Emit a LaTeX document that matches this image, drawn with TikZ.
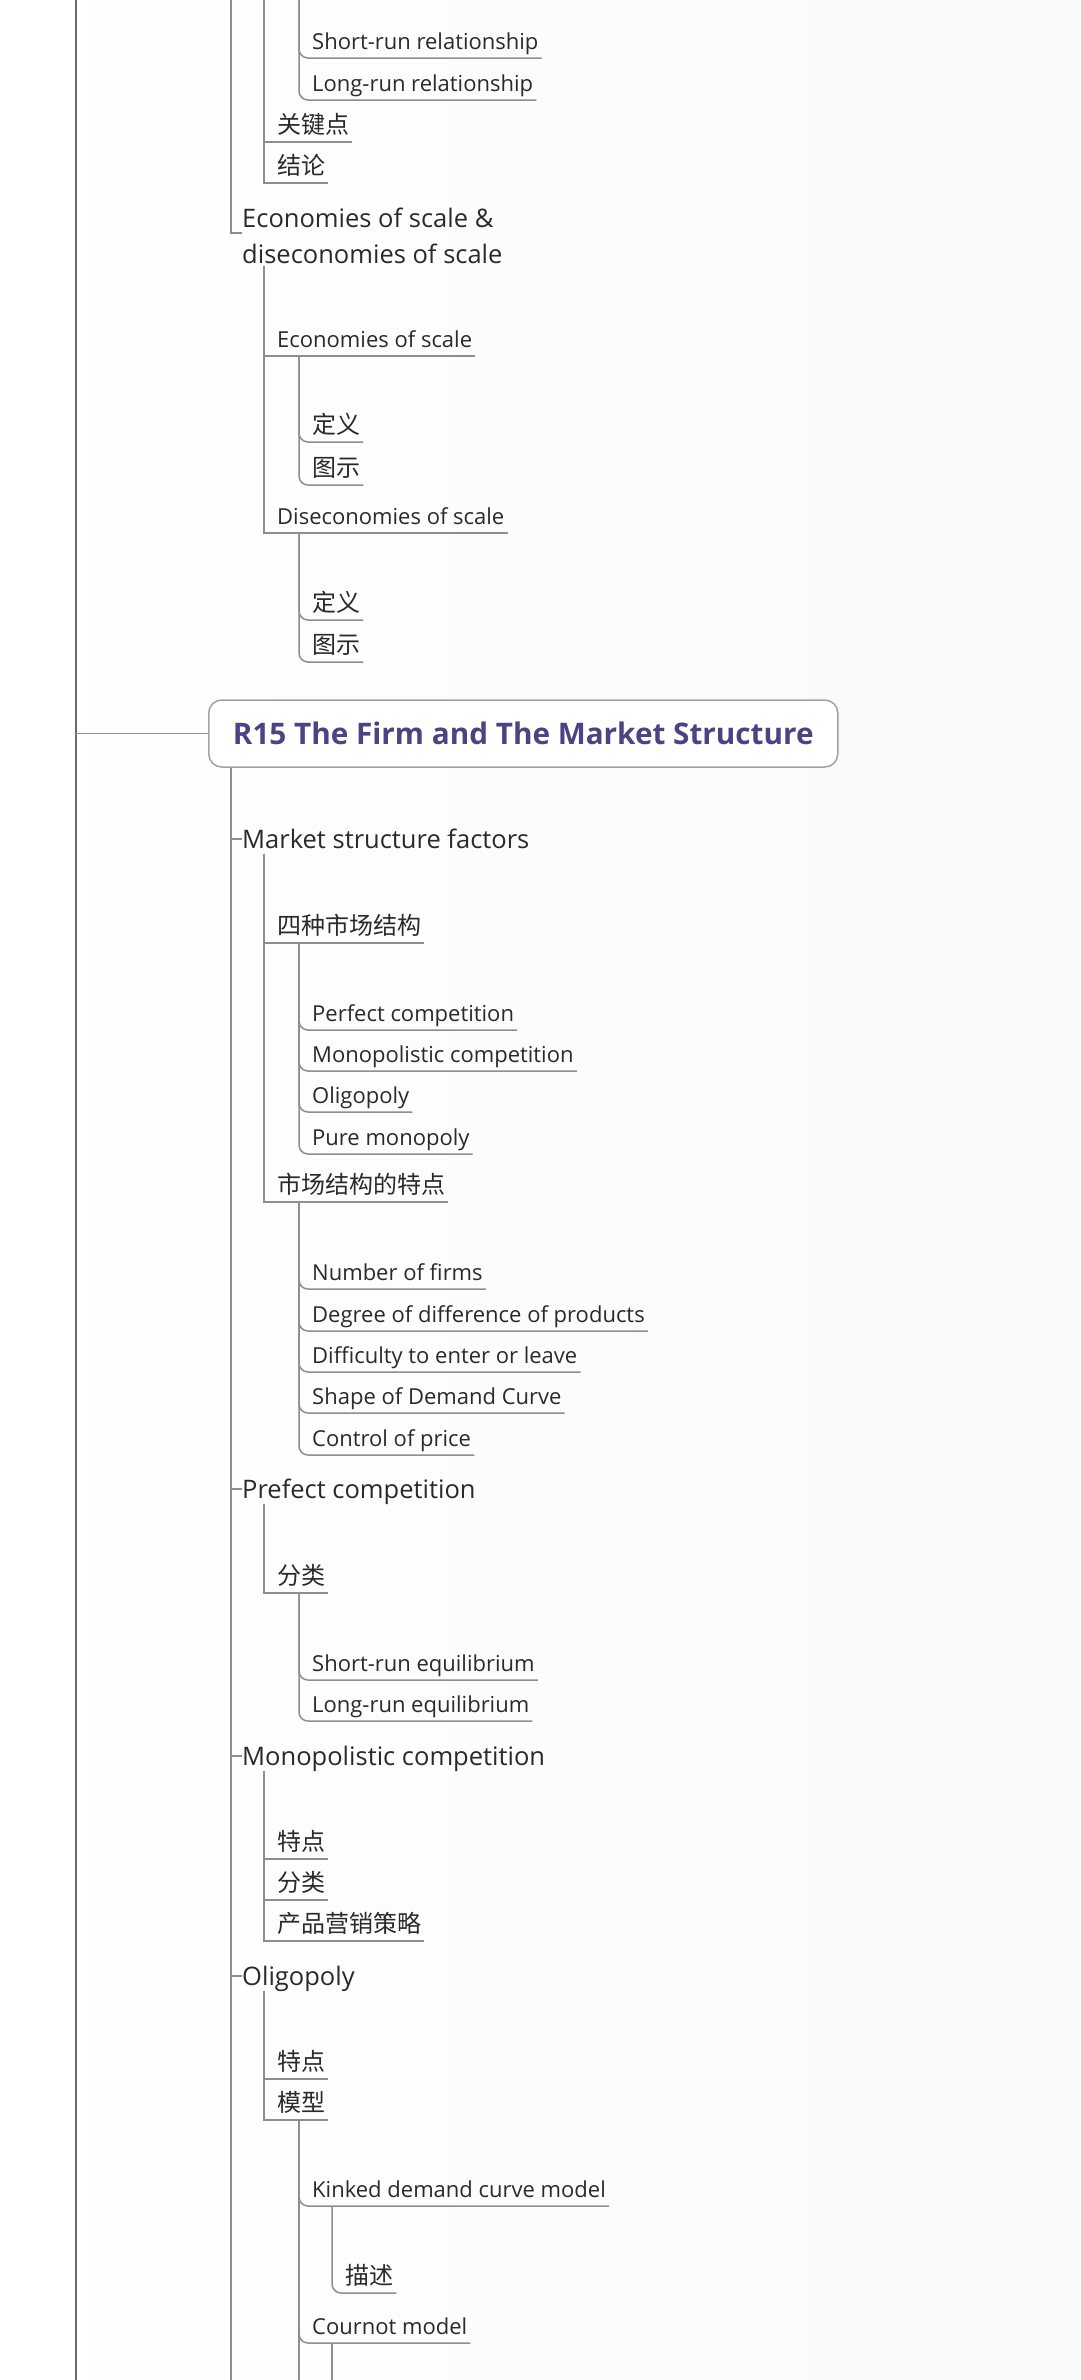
\documentclass[tikz,border=0pt]{standalone}
\usepackage{fontspec}
\setmainfont{Open Sans}
\newfontfamily\cjk{Noto Sans CJK SC}
\usetikzlibrary{calc}
\definecolor{linec}{HTML}{8E8E8E}
\definecolor{mainc}{HTML}{6A6A6A}
\definecolor{boxc}{HTML}{A2A2A2}
\definecolor{titlec}{HTML}{4B4482}
\definecolor{txt}{HTML}{2A2A2A}
\definecolor{bgr}{HTML}{F9F9FB}
\begin{document}
\begin{tikzpicture}[x=1pt,y=-1pt,
  conn/.style={draw=linec, line width=1.5pt},
  rconn/.style={conn, rounded corners=9pt},
  mainline/.style={draw=mainc, line width=2pt},
  lone/.style={anchor=west, inner xsep=0pt, inner ysep=5pt, text=txt,
    font=\fontsize{25.5}{36}\selectfont, text height=19pt, text depth=0pt},
  ltwo/.style={anchor=north west, inner sep=0pt, text=txt, align=left,
    font=\fontsize{25.5}{36}\selectfont},
  ul/.style={anchor=south west, inner xsep=3pt, inner ysep=0pt, text=txt,
    text height=18pt, text depth=8pt, font=\fontsize{22}{26}\selectfont},
  ulc/.style={ul, font=\cjk\fontsize{24}{28}\selectfont},
  titlebox/.style={draw=boxc, line width=1.5pt, rounded corners=13pt, fill=white,
    text=titlec, font=\bfseries\fontsize{29.7}{34}\selectfont,
    minimum width=629pt, minimum height=67pt, anchor=west, inner sep=0pt}
]
\useasboundingbox (0,0) rectangle (1080,2380);
\shade[left color=white, right color=bgr] (0,0) rectangle (1080,2380);

% main line
\coordinate (mtop) at (76,0);
\coordinate (mbot) at (76,2380);
\draw[mainline] (mtop) -- (mbot);

% ---------- top part (parents off picture) ----------
\coordinate (a1) at (231,0);
\coordinate (a2) at (264,0);
\coordinate (a3) at (299,0);

\node[ul] (srr) at (299,58) {\hspace*{10pt}Short-run relationship};
\node[ul] (lrr) at (299,100) {\hspace*{10pt}Long-run relationship};
\draw[rconn] (a3) |- (srr.south east);
\draw[rconn] (a3) |- (lrr.south east);

\node[ulc] (gjd) at (264,142) {\hspace*{10pt}关键点};
\node[ulc] (jl) at (264,183) {\hspace*{10pt}结论};
\draw[conn] (a2) |- (gjd.south east);
\draw[conn] (a2) |- (jl.south east);

\node[ltwo] (eds) at (242,208) {Economies of scale \&\\diseconomies of scale};
\draw[conn] (a1) |- ($(eds.north west)+(0,25)$);

\node[ul] (eos) at (264,356) {\hspace*{10pt}Economies of scale};
\node[ul] (dos) at (264,533) {\hspace*{10pt}Diseconomies of scale};
\coordinate (edst) at ($(eds.south west)+(22,2)$);
\draw[conn] (edst) |- (eos.south east);
\draw[conn] (edst) |- (dos.south east);

\node[ulc] (dy1) at (299,442) {\hspace*{10pt}定义};
\node[ulc] (ts1) at (299,485) {\hspace*{10pt}图示};
\coordinate (eost) at ($(eos.south west)+(35,0)$);
\draw[rconn] (eost) |- (dy1.south east);
\draw[rconn] (eost) |- (ts1.south east);

\node[ulc] (dy2) at (299,620) {\hspace*{10pt}定义};
\node[ulc] (ts2) at (299,662) {\hspace*{10pt}图示};
\coordinate (dost) at ($(dos.south west)+(35,0)$);
\draw[rconn] (dost) |- (dy2.south east);
\draw[rconn] (dost) |- (ts2.south east);

% ---------- R15 ----------
\node[titlebox] (r15) at (208,733.5) {R15 The Firm and The Market Structure};
\draw[conn] (mtop |- r15.west) -- (r15.west);
\coordinate (r15t) at ($(r15.south west)+(23,0)$);
\coordinate (r15b) at (231,2380);
\draw[conn] (r15t) -- (r15b);

% level 1
\node[lone] (msf) at (242,839) {Market structure factors};
\node[lone] (pc1) at (242,1489) {Prefect competition};
\node[lone] (mc1) at (242,1756) {Monopolistic competition};
\node[lone] (ol1) at (242,1976) {Oligopoly};
\draw[conn] (r15t) |- (msf.west);
\draw[conn] (r15t) |- (pc1.west);
\draw[conn] (r15t) |- (mc1.west);
\draw[conn] (r15t) |- (ol1.west);

% Market structure factors
\node[ulc] (szs) at (264,943) {\hspace*{10pt}四种市场结构};
\node[ulc] (tedian) at (264,1202) {\hspace*{10pt}市场结构的特点};
\coordinate (msft) at ($(msf.south west)+(22,0)$);
\draw[conn] (msft) |- (szs.south east);
\draw[conn] (msft) |- (tedian.south east);

\node[ul] (perf) at (299,1030) {\hspace*{10pt}Perfect competition};
\node[ul] (mono) at (299,1071) {\hspace*{10pt}Monopolistic competition};
\node[ul] (olig) at (299,1112) {\hspace*{10pt}Oligopoly};
\node[ul] (pure) at (299,1154) {\hspace*{10pt}Pure monopoly};
\coordinate (szst) at ($(szs.south west)+(35,0)$);
\draw[rconn] (szst) |- (perf.south east);
\draw[rconn] (szst) |- (mono.south east);
\draw[rconn] (szst) |- (olig.south east);
\draw[rconn] (szst) |- (pure.south east);

\node[ul] (nof) at (299,1289) {\hspace*{10pt}Number of firms};
\node[ul] (dod) at (299,1331) {\hspace*{10pt}Degree of difference of products};
\node[ul] (dif) at (299,1372) {\hspace*{10pt}Difficulty to enter or leave};
\node[ul] (sdc) at (299,1413) {\hspace*{10pt}Shape of Demand Curve};
\node[ul] (cop) at (299,1455) {\hspace*{10pt}Control of price};
\coordinate (tedt) at ($(tedian.south west)+(35,0)$);
\draw[rconn] (tedt) |- (nof.south east);
\draw[rconn] (tedt) |- (dod.south east);
\draw[rconn] (tedt) |- (dif.south east);
\draw[rconn] (tedt) |- (sdc.south east);
\draw[rconn] (tedt) |- (cop.south east);

% Prefect competition
\node[ulc] (fl1) at (264,1593) {\hspace*{10pt}分类};
\draw[conn] ($(pc1.south west)+(22,0)$) |- (fl1.south east);
\node[ul] (sre) at (299,1680) {\hspace*{10pt}Short-run equilibrium};
\node[ul] (lre) at (299,1721) {\hspace*{10pt}Long-run equilibrium};
\coordinate (fl1t) at ($(fl1.south west)+(35,0)$);
\draw[rconn] (fl1t) |- (sre.south east);
\draw[rconn] (fl1t) |- (lre.south east);

% Monopolistic competition
\node[ulc] (td1) at (264,1859) {\hspace*{10pt}特点};
\node[ulc] (fl2) at (264,1900) {\hspace*{10pt}分类};
\node[ulc] (cp) at (264,1941) {\hspace*{10pt}产品营销策略};
\coordinate (mc1t) at ($(mc1.south west)+(22,0)$);
\draw[conn] (mc1t) |- (td1.south east);
\draw[conn] (mc1t) |- (fl2.south east);
\draw[conn] (mc1t) |- (cp.south east);

% Oligopoly
\node[ulc] (td2) at (264,2079) {\hspace*{10pt}特点};
\node[ulc] (mx) at (264,2120) {\hspace*{10pt}模型};
\coordinate (ol1t) at ($(ol1.south west)+(22,0)$);
\draw[conn] (ol1t) |- (td2.south east);
\draw[conn] (ol1t) |- (mx.south east);

\node[ul] (kdc) at (299,2206) {\hspace*{10pt}Kinked demand curve model};
\node[ul] (cmod) at (299,2343) {\hspace*{10pt}Cournot model};
\coordinate (mxt) at ($(mx.south west)+(35,0)$);
\coordinate (mxb) at (299,2380);
\draw[rconn] (mxt) |- (kdc.south east);
\draw[rconn] (mxt) |- (cmod.south east);
\draw[conn] (mxt) -- (mxb);

\node[ulc] (ms) at (332,2293) {\hspace*{10pt}描述};
\coordinate (kdct) at ($(kdc.south west)+(33,0)$);
\draw[rconn] (kdct) |- (ms.south east);

\coordinate (cmodt) at ($(cmod.south west)+(33,0)$);
\coordinate (cmodb) at (332,2380);
\draw[conn] (cmodt) -- (cmodb);
\end{tikzpicture}
\end{document}
